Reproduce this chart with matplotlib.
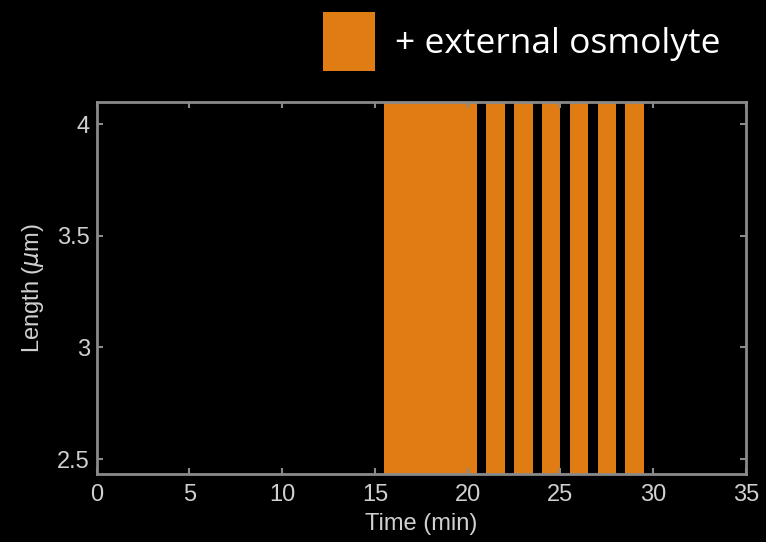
#!/usr/bin/env python3

import matplotlib
matplotlib.use("Agg")
import matplotlib.pyplot as plt
from matplotlib.patches import Rectangle

# ...Osmolyte pulses (start, end) in minutes
pulse_start = [15.5, 21.0, 22.5, 24.0, 25.5, 27.0, 28.5]
pulse_end = [20.5, 22.0, 23.5, 25.0, 26.5, 28.0, 29.5]

x_ticks = [0, 5, 10, 15, 20, 25, 30, 35]
y_ticks = [2.5, 3, 3.5, 4]
y_tick_labels = ["2.5", "3", "3.5", "4"]

ORANGE = "#df7c14"
AXIS_GREY = "#8a8a8a"
TEXT_GREY = "#d0d0d0"


def main():
    plt.rcParams["font.family"] = ["Liberation Sans", "DejaVu Sans"]

    fig = plt.figure(figsize=(7.66, 5.42), dpi=100, facecolor="black")
    ax = fig.add_axes([0.1262, 0.1255, 0.8477, 0.6869], facecolor="black")

    # ...Shade each pulse
    for t0, t1 in zip(pulse_start, pulse_end):
        ax.axvspan(t0, t1, color=ORANGE, lw=0)

    ax.set_xlim(0, 35)
    ax.set_ylim(2.434, 4.1)
    ax.set_xticks(x_ticks)
    ax.set_yticks(y_ticks)
    ax.set_yticklabels(y_tick_labels)

    for spine in ax.spines.values():
        spine.set_color(AXIS_GREY)
        spine.set_linewidth(2)

    ax.tick_params(
        direction="in",
        length=4,
        width=1.5,
        color=AXIS_GREY,
        labelcolor=TEXT_GREY,
        labelsize=17,
        top=True,
        right=True,
    )
    ax.tick_params(axis="x", pad=7)
    ax.tick_params(axis="y", pad=5)

    ax.set_xlabel("Time (min)", color=TEXT_GREY, fontsize=17, labelpad=5)
    ax.set_ylabel(r"Length ($\mu$m)", color=TEXT_GREY, fontsize=17, labelpad=8)

    # ...Key in the top corner
    fig.add_artist(
        Rectangle((0.4213, 0.8696), 0.0683, 0.1077, transform=fig.transFigure,
                  facecolor=ORANGE, edgecolor="none")
    )
    fig.text(0.5157, 0.902, "+ external osmolyte", color="white", fontsize=25.5,
             family=["Open Sans", "DejaVu Sans"], va="baseline", ha="left")

    fig.savefig("out.png", dpi=100, facecolor="black")


if __name__ == "__main__":
    main()
